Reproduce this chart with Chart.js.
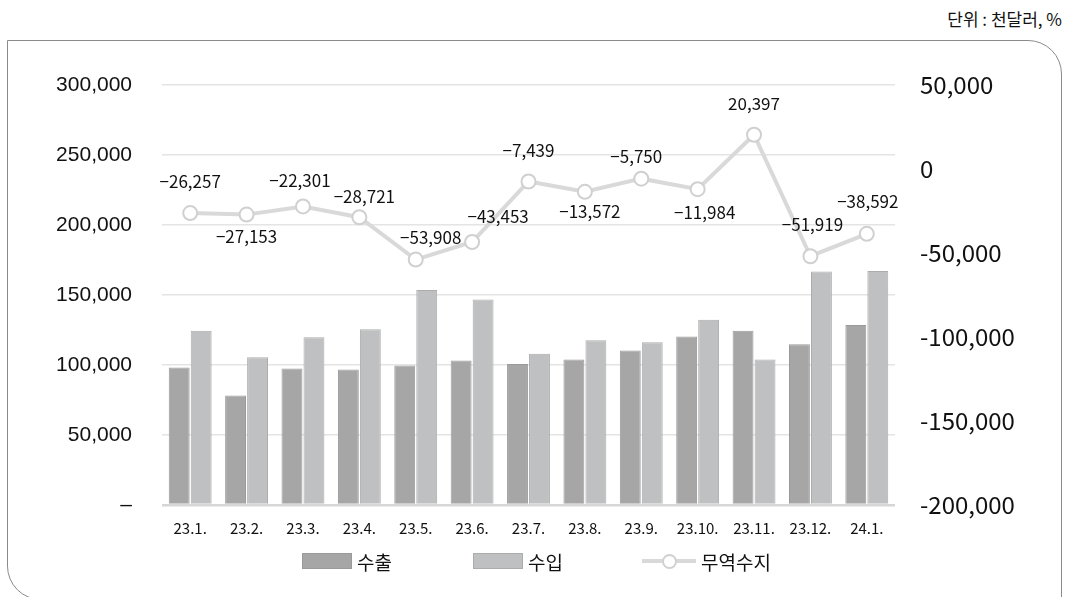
<!DOCTYPE html>
<html>
<head>
<meta charset="utf-8">
<script src="https://cdn.jsdelivr.net/npm/chart.js@4"></script>
<style>
  html, body { margin: 0; padding: 0; background: #fff; }
  body { width: 1067px; height: 597px; position: relative; overflow: hidden; font-family: "Noto Sans CJK KR", "Noto Sans", sans-serif; }
  #unit { position: absolute; right: 5px; top: 6px; font-size: 17px; color: #111; }
  #frame { position: absolute; left: 7px; top: 40px; width: 1055px; height: 560px; border: 1px solid #8a8a8a; border-radius: 0 34px 0 34px; box-sizing: border-box; }
  #wrap { position: absolute; left: 0; top: 0; width: 1067px; height: 597px; }
  #legend { position: absolute; top: 546px; left: 0; width: 1067px; height: 30px; font-size: 19px; color: #111; }
  .item { position: absolute; top: 0; display: flex; align-items: center; height: 30px; }
  .box { width: 50px; height: 16px; box-sizing: border-box; margin-right: 5px; }
  .ln { position: relative; width: 54px; height: 16px; margin-right: 5px; }
  .ln::before { content: ""; position: absolute; left: 0; right: 0; top: 6px; height: 4px; background: #d9d9d9; }
  .ln::after { content: ""; position: absolute; left: 20px; top: 1px; width: 11px; height: 11px; border-radius: 50%; background: #fff; border: 2px solid #d0d0d0; }
</style>
</head>
<body>
<div id="unit">단위 : 천달러, %</div>
<div id="frame"></div>
<div id="wrap"><canvas id="chart" width="1067" height="597"></canvas></div>
<div id="legend">
  <div class="item" style="left:302px"><span class="box" style="background:#a6a6a6;border:1px solid #9a9a9a"></span>수출</div>
  <div class="item" style="left:473px"><span class="box" style="background:#bfc0c1;border:1px solid #acacac"></span>수입</div>
  <div class="item" style="left:642px"><span class="ln"></span>무역수지</div>
</div>
<script>
// categories and series (천달러)
const months = ['23.1.', '23.2.', '23.3.', '23.4.', '23.5.', '23.6.', '23.7.', '23.8.', '23.9.', '23.10.', '23.11.', '23.12.', '24.1.'];
const exportsK = [98200, 78300, 97500, 96800, 99700, 103200, 100700, 104000, 110400, 120400, 124400, 114800, 128500];
const importsK = [124500, 105500, 119800, 125500, 153600, 146700, 108100, 117600, 116200, 132400, 104000, 166700, 167100];
const balance = [-26257, -27153, -22301, -28721, -53908, -43453, -7439, -13572, -5750, -11984, 20397, -51919, -38592];

// where each balance label sits relative to its point
const labelOffsets = [[0, -32], [0, 22], [-3, -26], [5, -21], [15, -22], [26, -25], [0, -31], [5, 20], [-5, -22], [7, 23], [0, -31], [2, -32], [1, -32]];

const fmt = v => Math.abs(v).toLocaleString('en-US');

const balanceLabels = {
    id: 'balanceLabels',
    afterDatasetsDraw(chart) {
        const ctx = chart.ctx;
        const meta = chart.getDatasetMeta(2);
        ctx.save();
        ctx.font = '17px "Noto Sans CJK KR", "Noto Sans", sans-serif';
        ctx.fillStyle = '#111';
        ctx.textAlign = 'center';
        ctx.textBaseline = 'middle';
        meta.data.forEach((pt, i) => {
            const v = balance[i];
            const txt = (v < 0 ? '\u2212' : '') + fmt(v);
            ctx.fillText(txt, pt.x + labelOffsets[i][0], pt.y + labelOffsets[i][1]);
        });
        ctx.restore();
    }
};

const ctx = document.getElementById('chart').getContext('2d');
new Chart(ctx, {
    data: {
        labels: months,
        datasets: [
            {
                type: 'bar',
                label: '수출',
                data: exportsK,
                backgroundColor: '#a6a6a6',
                borderColor: '#9a9a9a',
                borderWidth: 1,
                yAxisID: 'y',
                order: 2,
                barPercentage: 0.95,
                categoryPercentage: 0.78
            },
            {
                type: 'bar',
                label: '수입',
                data: importsK,
                backgroundColor: '#bfc0c1',
                borderColor: '#acacac',
                borderWidth: 1,
                yAxisID: 'y',
                order: 2,
                barPercentage: 0.95,
                categoryPercentage: 0.78
            },
            {
                type: 'line',
                label: '무역수지',
                data: balance,
                borderColor: '#d9d9d9',
                borderWidth: 4,
                pointRadius: 7,
                pointBackgroundColor: '#ffffff',
                pointBorderColor: '#d0d0d0',
                pointBorderWidth: 2,
                tension: 0,
                yAxisID: 'y1',
                order: 0
            }
        ]
    },
    options: {
        responsive: false,
        animation: false,
        layout: { padding: { top: 85, left: 0, right: 0, bottom: 0 } },
        plugins: {
            legend: { display: false },
            tooltip: { enabled: false }
        },
        scales: {
            x: {
                grid: { display: false },
                border: { display: false },
                ticks: {
                    color: '#111',
                    padding: 6,
                    maxRotation: 0,
                    autoSkip: false,
                    font: { family: '"Noto Sans CJK KR", "Noto Sans", sans-serif', size: 15 }
                },
                afterFit(scale) { scale.height = 92; }
            },
            y: {
                position: 'left',
                min: 0,
                max: 300000,
                border: { display: false },
                grid: {
                    color: ctx => ctx.tick.value === 0 ? '#d6d6d6' : '#e4e4e4',
                    lineWidth: ctx => ctx.tick.value === 0 ? 2.5 : 1.5,
                    drawTicks: false
                },
                ticks: {
                    stepSize: 50000,
                    color: '#111',
                    padding: 30,
                    font: { family: '"Liberation Sans", Arial, sans-serif', size: 21 },
                    callback: v => v === 0 ? '\u2013' : v.toLocaleString('en-US')
                },
                afterFit(scale) { scale.width = 162; }
            },
            y1: {
                position: 'right',
                min: -200000,
                max: 50000,
                border: { display: false },
                grid: { display: false, drawTicks: false },
                ticks: {
                    stepSize: 50000,
                    color: '#111',
                    padding: 25,
                    font: { family: '"Noto Sans CJK KR", "Noto Sans", sans-serif', size: 24 },
                    callback: v => (v < 0 ? '-' : '') + fmt(v)
                },
                afterFit(scale) { scale.width = 172; }
            }
        }
    },
    plugins: [balanceLabels]
});
</script>
</body>
</html>
